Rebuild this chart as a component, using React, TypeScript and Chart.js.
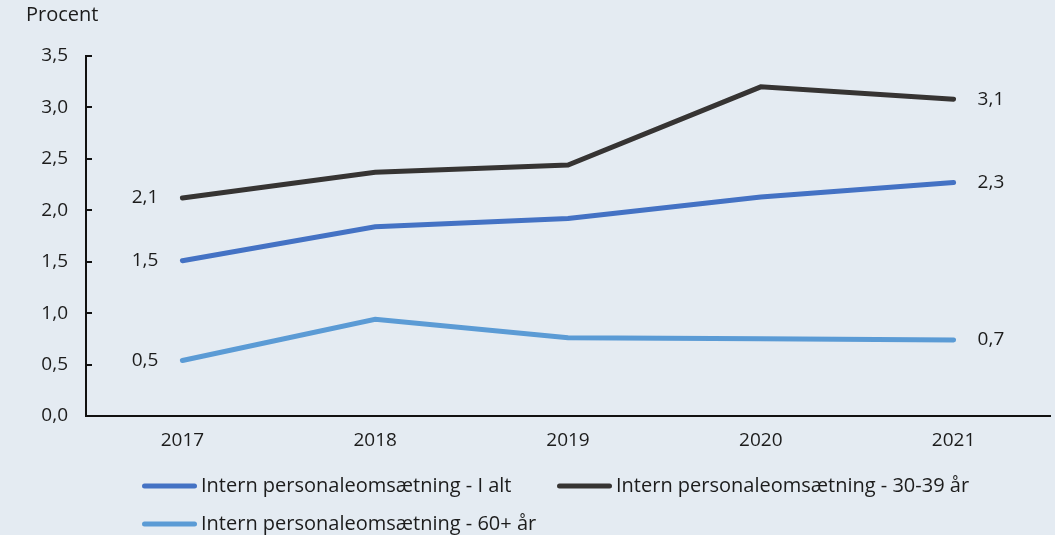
import React, { useEffect, useRef } from 'react';
import { Chart, registerables } from 'chart.js';

Chart.register(...registerables);

const categories = ['2017', '2018', '2019', '2020', '2021'];
const seriesTotal = [1.51, 1.84, 1.92, 2.13, 2.27];
const series3039 = [2.12, 2.37, 2.44, 3.2, 3.08];
const series60 = [0.54, 0.94, 0.76, 0.75, 0.74];
const seriesNames = [
  'Intern personaleomsætning - I alt',
  'Intern personaleomsætning - 30-39 år',
  'Intern personaleomsætning - 60+ år',
];
const seriesColors = ['#4472C4', '#363433', '#5B9BD5'];
const yMin = 0;
const yMax = 3.5;
const yStep = 0.5;
const axisTitle = 'Procent';

const BG = '#E4EBF2';
const TEXT = '#1c1c1c';
const FONT = "'Open Sans', sans-serif";

const fmt = (v: number) => v.toFixed(1).replace('.', ',');

const customPlugin = {
  id: 'customDecor',
  afterDraw(chart: any) {
    const ctx = chart.ctx as CanvasRenderingContext2D;
    const ys = chart.scales.y;
    const area = chart.chartArea;
    ctx.save();
    // inward tick marks on y axis
    ctx.strokeStyle = '#111';
    ctx.lineWidth = 2;
    ys.ticks.forEach((t: any) => {
      const py = Math.round(ys.getPixelForValue(t.value));
      ctx.beginPath();
      ctx.moveTo(area.left, py);
      ctx.lineTo(area.left + 6, py);
      ctx.stroke();
    });
    // data labels on first and last points
    ctx.fillStyle = TEXT;
    ctx.font = `19px ${FONT}`;
    ctx.textBaseline = 'middle';
    chart.data.datasets.forEach((ds: any, i: number) => {
      const meta = chart.getDatasetMeta(i);
      const pts = meta.data;
      const n = pts.length;
      ctx.textAlign = 'right';
      ctx.fillText(fmt(ds.data[0]), pts[0].x - 24, pts[0].y);
      ctx.textAlign = 'left';
      ctx.fillText(fmt(ds.data[n - 1]), pts[n - 1].x + 24, pts[n - 1].y);
    });
    // axis title
    ctx.font = `20px ${FONT}`;
    ctx.textAlign = 'left';
    ctx.textBaseline = 'alphabetic';
    ctx.fillText(axisTitle, 26, 21);
    // legend
    const cols = [142, 557];
    const rows = [486, 524];
    chart.data.datasets.forEach((ds: any, i: number) => {
      const x0 = cols[i % 2];
      const y0 = rows[Math.floor(i / 2)];
      ctx.strokeStyle = ds.borderColor;
      ctx.lineWidth = 5;
      ctx.lineCap = 'round';
      ctx.beginPath();
      ctx.moveTo(x0 + 2.5, y0);
      ctx.lineTo(x0 + 52.5, y0);
      ctx.stroke();
      ctx.fillStyle = TEXT;
      ctx.textBaseline = 'middle';
      ctx.fillText(ds.label, x0 + 59, y0);
    });
    ctx.restore();
  },
};

export default function App() {
  const ref = useRef<HTMLCanvasElement>(null);
  useEffect(() => {
    document.body.style.margin = '0';
    document.body.style.background = BG;
    const yData = [seriesTotal, series3039, series60];
    const chart = new Chart(ref.current as HTMLCanvasElement, {
      type: 'line',
      data: {
        labels: categories,
        datasets: yData.map((d, i) => ({
          label: seriesNames[i],
          data: d,
          borderColor: seriesColors[i],
          backgroundColor: seriesColors[i],
          borderWidth: 5,
          borderCapStyle: 'round' as const,
          borderJoinStyle: 'miter' as const,
          pointRadius: 0,
          pointHoverRadius: 0,
          tension: 0,
          fill: false,
        })),
      },
      options: {
        responsive: false,
        animation: false,
        layout: { padding: { top: 56, right: 5, left: 0, bottom: 0 } },
        plugins: {
          legend: { display: false },
          tooltip: { enabled: false },
          title: { display: false },
        },
        scales: {
          x: {
            offset: true,
            grid: { display: true, drawOnChartArea: false, drawTicks: false },
            border: { display: true, color: '#111', width: 2 },
            ticks: { color: TEXT, font: { family: FONT, size: 19 }, padding: 13, maxRotation: 0 },
            afterFit: (s: any) => {
              s.height = 119;
            },
          },
          y: {
            min: yMin,
            max: yMax,
            grid: { display: true, drawOnChartArea: false, drawTicks: false },
            border: { display: true, color: '#111', width: 2 },
            ticks: {
              stepSize: yStep,
              color: TEXT,
              font: { family: FONT, size: 19 },
              padding: 18,
              callback: (v: any) => fmt(Number(v)),
            },
            afterFit: (s: any) => {
              s.width = 86;
            },
          },
        },
      },
      plugins: [customPlugin],
    });
    return () => chart.destroy();
  }, []);
  return (
    <div style={{ width: 1055, height: 535, background: BG }}>
      <canvas ref={ref} width={1055} height={535} style={{ display: 'block' }} />
    </div>
  );
}
